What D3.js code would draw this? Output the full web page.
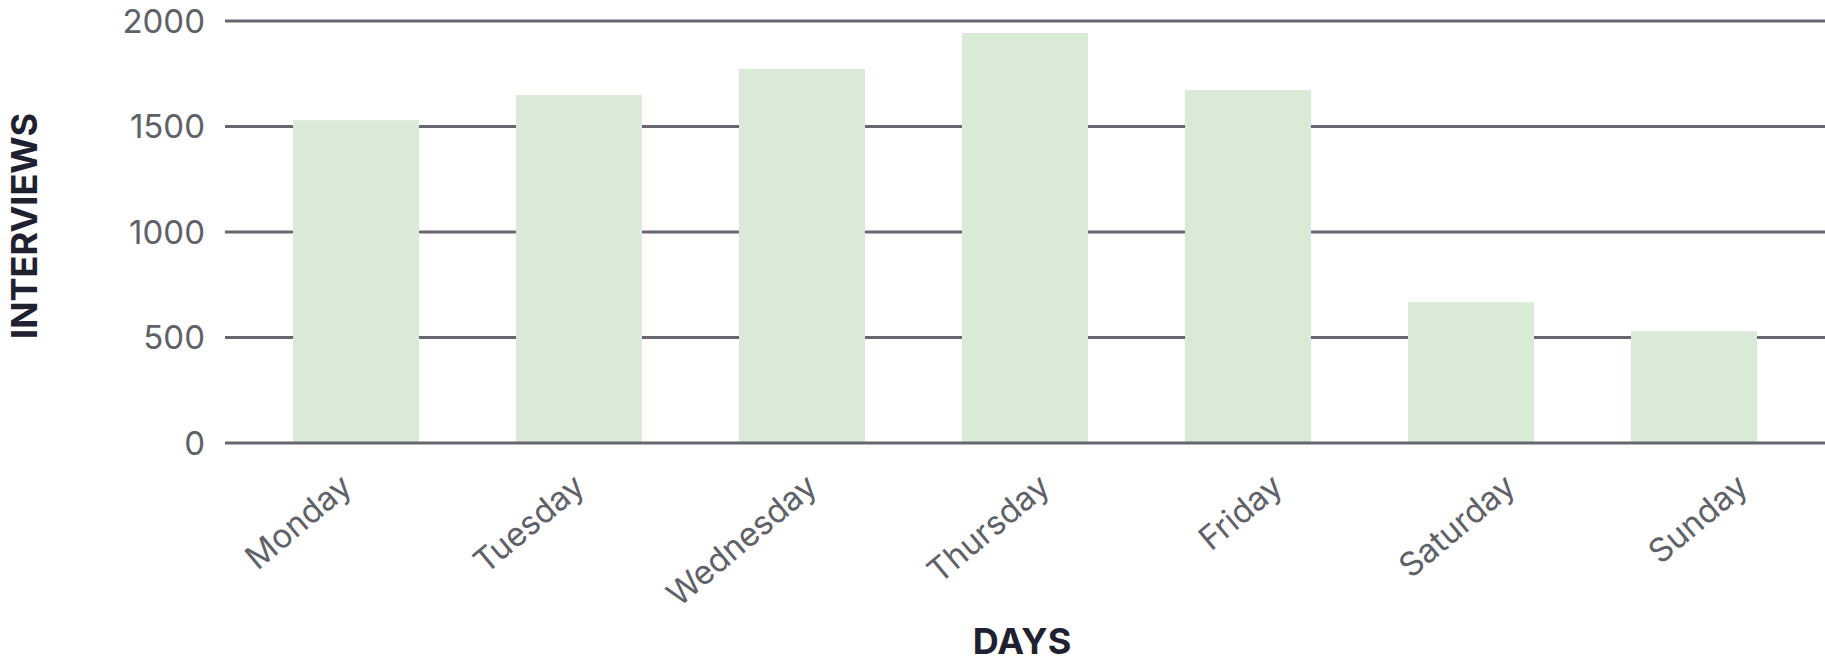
<!DOCTYPE html>
<html>
<head>
<meta charset="utf-8">
<script src="https://cdn.jsdelivr.net/npm/d3@7"></script>
<style>
  html, body { margin: 0; padding: 0; background: #ffffff; }
  svg { display: block; }
  .tick-label { font-family: Inter, "Liberation Sans", sans-serif; font-size: 33px; fill: #5f6169; }
  .axis-title { font-family: Inter, "Liberation Sans", sans-serif; font-size: 36px; font-weight: 700; fill: #1f2130; }
  .grid { stroke: #66676e; stroke-width: 3; }
  .bar { fill: #d9ead6; }
</style>
</head>
<body>
<script>
var days = ["Monday", "Tuesday", "Wednesday", "Thursday", "Friday", "Saturday", "Sunday"];
var interviews = [1530, 1650, 1773, 1943, 1673, 667, 530];
var yTicks = [0, 500, 1000, 1500, 2000];

var W = 1825, H = 658;
var mLeft = 225, mRight = 1825, mTop = 21, mBottom = 443;

var svg = d3.select("body").append("svg")
    .attr("width", W)
    .attr("height", H);

var x = d3.scaleBand()
    .domain(days)
    .range([mLeft, mRight])
    .paddingInner(0.435)
    .paddingOuter(0.305);

// rotated labels sit on a slightly wider spacing than the bars
var xLabel = d3.scalePoint()
    .domain(days)
    .range([354, 1750]);

var y = d3.scaleLinear()
    .domain([0, 2000])
    .range([mBottom, mTop]);

// gridlines (behind bars)
svg.append("g").selectAll("line.grid")
    .data(yTicks.filter(function (d) { return d > 0; }))
    .enter()
    .append("line")
    .attr("class", "grid")
    .attr("x1", mLeft)
    .attr("x2", mRight)
    .attr("y1", function (d) { return y(d); })
    .attr("y2", function (d) { return y(d); });

// bars
svg.append("g").selectAll("rect.bar")
    .data(days)
    .enter()
    .append("rect")
    .attr("class", "bar")
    .attr("x", function (d) { return x(d); })
    .attr("width", x.bandwidth())
    .attr("y", function (d, i) { return y(interviews[i]); })
    .attr("height", function (d, i) { return y(0) - y(interviews[i]); });

// zero line on top
svg.append("line")
    .attr("class", "grid")
    .attr("x1", mLeft)
    .attr("x2", mRight)
    .attr("y1", y(0))
    .attr("y2", y(0));

// y tick labels
svg.append("g").selectAll("text")
    .data(yTicks)
    .enter()
    .append("text")
    .attr("class", "tick-label")
    .attr("x", 205)
    .attr("y", function (d) { return y(d); })
    .attr("dy", "0.36em")
    .attr("text-anchor", "end")
    .text(function (d) { return d; });

// x tick labels
svg.append("g").selectAll("text")
    .data(days)
    .enter()
    .append("text")
    .attr("class", "tick-label")
    .attr("text-anchor", "end")
    .attr("transform", function (d) {
        return "translate(" + xLabel(d) + ",490) rotate(-40)";
    })
    .text(function (d) { return d; });

// axis titles
svg.append("text")
    .attr("class", "axis-title")
    .attr("text-anchor", "middle")
    .attr("transform", "translate(37,226) rotate(-90)")
    .text("INTERVIEWS");

svg.append("text")
    .attr("class", "axis-title")
    .attr("text-anchor", "middle")
    .attr("x", (mLeft + mRight) / 2 - 3)
    .attr("y", 654)
    .text("DAYS");
</script>
</body>
</html>
